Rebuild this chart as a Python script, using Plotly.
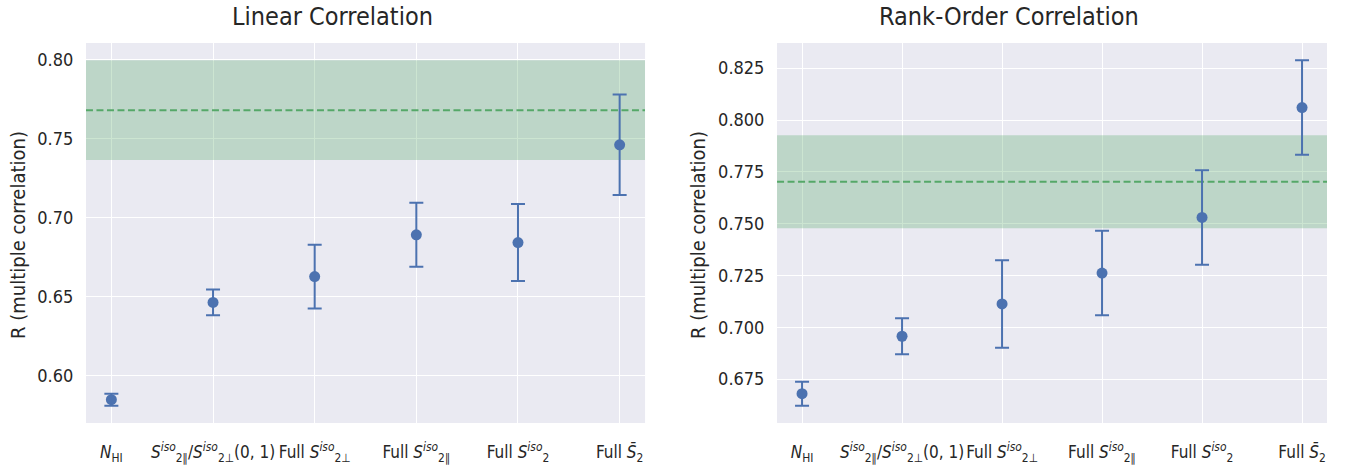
import plotly.graph_objects as go

# Feature sets compared in both panels
labels = [
    "<i>N</i><sub>HI</sub>",
    "<i>S</i><sup><i>iso</i></sup><sub>2∥</sub>/<i>S</i><sup><i>iso</i></sup><sub>2⊥</sub>(0, 1)",
    "Full <i>S</i><sup><i>iso</i></sup><sub>2⊥</sub>",
    "Full <i>S</i><sup><i>iso</i></sup><sub>2∥</sub>",
    "Full <i>S</i><sup><i>iso</i></sup><sub>2</sub>",
    "Full <i>S̄</i><sub>2</sub>",
]
positions = [0, 1, 2, 3, 4, 5]

# Linear (Pearson) multiple correlation and uncertainty
linear_r = [0.585, 0.6465, 0.6628, 0.6892, 0.6843, 0.7461]
linear_err = [0.0038, 0.0082, 0.0201, 0.0202, 0.0243, 0.0318]
linear_ref = 0.768
linear_ref_err = 0.0315

# Rank-order (Spearman) multiple correlation and uncertainty
rank_r = [0.6680, 0.6957, 0.7113, 0.7262, 0.7530, 0.8060]
rank_err = [0.0058, 0.0087, 0.0211, 0.0204, 0.0228, 0.0228]
rank_ref = 0.7702
rank_ref_err = 0.0224

titles = ["Linear Correlation", "Rank-Order Correlation"]
y_ticks_left = [0.60, 0.65, 0.70, 0.75, 0.80]
y_ticks_right = [0.675, 0.700, 0.725, 0.750, 0.775, 0.800, 0.825]

BLUE = "#4C72B0"
GREEN = "#55A868"
BAND = "rgba(85,168,104,0.3)"
BG = "#EAEAF2"
TXT = "#262626"
FONT = "DejaVu Sans Condensed, DejaVu Sans"

fig = go.Figure()

panels = [
    dict(r=linear_r, e=linear_err, ref=linear_ref, ref_err=linear_ref_err,
         xa="x", ya="y", dom=[0.0633, 0.4750], ticks=y_ticks_left, fmt=".2f"),
    dict(r=rank_r, e=rank_err, ref=rank_ref, ref_err=rank_ref_err,
         xa="x2", ya="y2", dom=[0.5722, 0.9772], ticks=y_ticks_right, fmt=".3f"),
]

x_lo = positions[0] - 0.25
x_hi = positions[-1] + 0.25

for i, p in enumerate(panels):
    lo = p["ref"] - p["ref_err"]
    hi = p["ref"] + p["ref_err"]
    # reference band (semi-transparent, above the grid, below the points)
    fig.add_trace(go.Scatter(
        x=[x_lo, x_hi, x_hi, x_lo, x_lo], y=[lo, lo, hi, hi, lo],
        mode="lines", fill="toself", fillcolor=BAND, line=dict(width=0),
        hoverinfo="skip", xaxis=p["xa"], yaxis=p["ya"], showlegend=False,
    ))
    # central reference value
    fig.add_trace(go.Scatter(
        x=[x_lo, x_hi], y=[p["ref"], p["ref"]], mode="lines",
        line=dict(color=GREEN, width=2, dash="7px,3.5px"),
        hoverinfo="skip", xaxis=p["xa"], yaxis=p["ya"], showlegend=False,
    ))
    fig.add_trace(go.Scatter(
        x=positions, y=p["r"], mode="markers",
        marker=dict(color=BLUE, size=11),
        error_y=dict(type="data", array=p["e"], visible=True,
                     color=BLUE, thickness=2, width=7),
        xaxis=p["xa"], yaxis=p["ya"], showlegend=False,
    ))

    allv = [v - e for v, e in zip(p["r"], p["e"])] + [v + e for v, e in zip(p["r"], p["e"])] + [lo, hi]
    vmin, vmax = min(allv), max(allv)
    pad = 0.05 * (vmax - vmin)

    suffix = "" if i == 0 else "2"
    fig.update_layout(**{
        "xaxis" + suffix: dict(
            domain=p["dom"], anchor=p["ya"], range=[x_lo, x_hi],
            tickmode="array", tickvals=positions, ticktext=labels,
            tickangle=0, automargin=False,
            showgrid=True, gridcolor="white", gridwidth=1.3, zeroline=False,
            ticks="outside", ticklen=14, tickcolor="rgba(0,0,0,0)",
            tickfont=dict(family=FONT, size=17, color=TXT),
            showline=False,
        ),
        "yaxis" + suffix: dict(
            domain=[0.0923, 0.9077], anchor=p["xa"], range=[vmin - pad, vmax + pad],
            tickmode="array", tickvals=p["ticks"], tickformat=p["fmt"],
            automargin=False,
            showgrid=True, gridcolor="white", gridwidth=1.3, zeroline=False,
            ticks="outside", ticklen=8, tickcolor="rgba(0,0,0,0)",
            tickfont=dict(family=FONT, size=18, color=TXT),
            showline=False,
        ),
    })

common = dict(xref="paper", yref="paper", showarrow=False,
              xanchor="center", yanchor="middle")
annotations = [
    dict(text=titles[0], x=332 / 1358, y=1 - 16 / 466,
         font=dict(family=FONT, size=25, color=TXT), **common),
    dict(text=titles[1], x=1009 / 1358, y=1 - 16 / 466,
         font=dict(family=FONT, size=25, color=TXT), **common),
    dict(text="R (multiple correlation)", x=18 / 1358, y=1 - 235 / 466,
         textangle=-90, font=dict(family=FONT, size=20, color=TXT), **common),
    dict(text="R (multiple correlation)", x=698 / 1358, y=1 - 235 / 466,
         textangle=-90, font=dict(family=FONT, size=20, color=TXT), **common),
]

fig.update_layout(
    width=1358, height=466,
    margin=dict(l=0, r=0, t=0, b=0),
    paper_bgcolor="white",
    plot_bgcolor=BG,
    annotations=annotations,
    font=dict(family=FONT, color=TXT),
)

fig.write_html("out.html")
